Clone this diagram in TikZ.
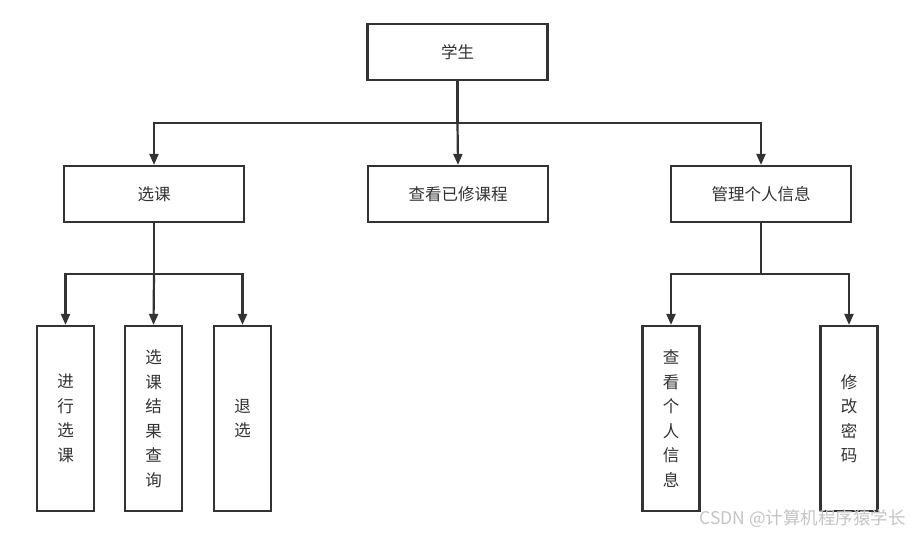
\documentclass[tikz,border=0pt]{standalone}
\usepackage{fontspec}
\setmainfont{Noto Sans CJK SC}
\usetikzlibrary{arrows.meta}
\definecolor{ln}{HTML}{333333}
\definecolor{wm}{HTML}{C4C4C4}
\tikzset{
  box/.style={draw=ln, line width=2.2pt, fill=white, inner sep=0pt, text=ln, font=\fontsize{16.5}{18}\selectfont},
  wide/.style={box, minimum width=180pt, minimum height=56pt},
  tall/.style={box, minimum width=57pt, minimum height=185pt, align=center, font=\fontsize{16.5}{24.5}\selectfont},
  conn/.style={draw=ln, line width=2.2pt},
  arr/.style={conn, -{Triangle[width=9pt,length=11pt]}}
}
\begin{document}
\begin{tikzpicture}[x=1pt,y=-1pt]
\path[use as bounding box] (0,0) rectangle (912,535);
\node[wide] (root) at (457.5,52) {学生};
\node[wide] (xk) at (154,194) {选课};
\node[wide] (ck) at (458,194) {查看已修课程};
\node[wide] (gl) at (761,194) {管理个人信息};
\node[tall] (a1) at (65.5,418.5) {进\\行\\选\\课};
\node[tall] (a2) at (153.5,418.5) {选\\课\\结\\果\\查\\询};
\node[tall] (a3) at (242.5,418.5) {退\\选};
\node[tall] (b1) at (671,418.5) {查\\看\\个\\人\\信\\息};
\node[tall] (b2) at (849,418.5) {修\\改\\密\\码};
\coordinate (r0) at (457.5,123);
\coordinate (x0) at (154,274);
\coordinate (g0) at (761,274);
% root to level 2
\draw[conn] (root.south) -- (r0);
\draw[arr] (r0) -| (xk.north);
\draw[arr] (r0) -- (ck.north);
\draw[arr] (r0) -| (gl.north);
% xk to children
\draw[conn] (xk.south) -- (x0);
\draw[arr] (x0) -| (a1.north);
\draw[arr] (x0) -- (a2.north);
\draw[arr] (x0) -| (a3.north);
% gl to children
\draw[conn] (gl.south) -- (g0);
\draw[arr] (g0) -| (b1.north);
\draw[arr] (g0) -| (b2.north);
\node[text=wm, font=\fontsize{17.5}{19}\selectfont, anchor=east, inner sep=0pt] (wmk) at (906,519) {CSDN @计算机程序猿学长};
\end{tikzpicture}
\end{document}
